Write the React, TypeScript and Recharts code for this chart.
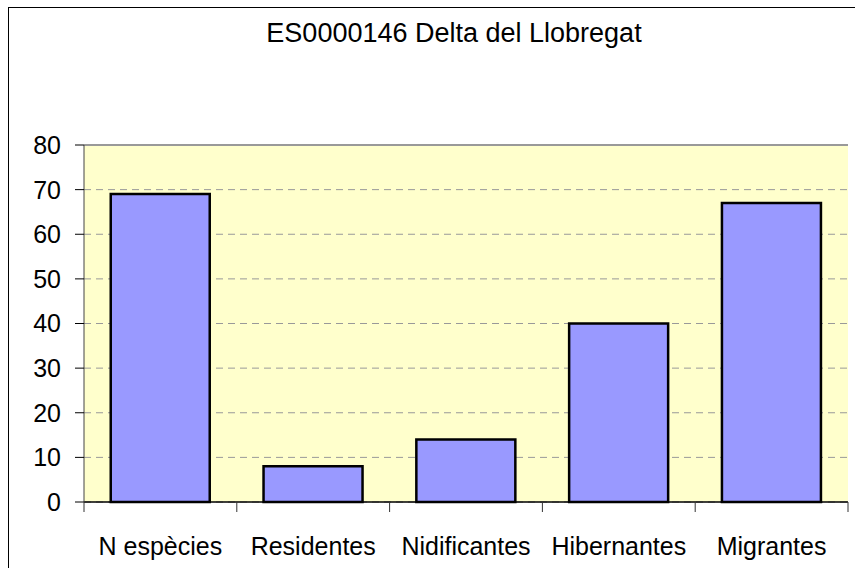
import { BarChart, Bar, XAxis, YAxis, CartesianGrid, ReferenceLine } from 'recharts'

const categories = ['N espècies', 'Residentes', 'Nidificantes', 'Hibernantes', 'Migrantes']
const especies = [69, 8, 14, 40, 67]
const yTicks = [0, 10, 20, 30, 40, 50, 60, 70, 80]

const data = categories.map((name, i) => ({ name, value: especies[i] }))

const CHART_W = 890
const CHART_H = 600
const MARGIN = { top: 137, right: 51, bottom: 0, left: 0 }
const Y_AXIS_W = 75
const STEP = (CHART_W - MARGIN.left - MARGIN.right - Y_AXIS_W) / categories.length
const FONT = '"Liberation Sans", Arial, sans-serif'

function CategoryTick(props: any) {
  const { x, y, payload, index } = props
  const last = index === categories.length - 1
  return (
    <g>
      <line x1={x - STEP / 2} x2={x - STEP / 2} y1={y} y2={y + 10} stroke="#333" />
      {last && <line x1={x + STEP / 2} x2={x + STEP / 2} y1={y} y2={y + 10} stroke="#333" />}
      <text x={x} y={y + 53} textAnchor="middle" fontSize={25} fill="#000" fontFamily={FONT}>
        {payload.value}
      </text>
    </g>
  )
}

export default function App() {
  return (
    <div
      style={{
        position: 'absolute',
        left: 8,
        top: 7,
        width: CHART_W,
        height: CHART_H,
        border: '1px solid #000',
        background: '#fff',
        fontFamily: FONT,
      }}
    >
      <div
        style={{
          position: 'absolute',
          left: -9,
          top: 12,
          width: CHART_W + 18,
          textAlign: 'center',
          fontSize: 27,
          lineHeight: '27px',
          color: '#000',
        }}
      >
        ES0000146 Delta del Llobregat
      </div>
      <BarChart width={CHART_W} height={CHART_H} data={data} margin={MARGIN} barCategoryGap="17.5%">
        <CartesianGrid
          vertical={false}
          fill="#FFFFCC"
          stroke="#999"
          strokeDasharray="7 5"
        />
        <XAxis
          dataKey="name"
          interval={0}
          tickLine={false}
          tickSize={0}
          tickMargin={0}
          height={CHART_H - MARGIN.top - MARGIN.bottom - 357}
          axisLine={{ stroke: '#000', strokeWidth: 1.5 }}
          tick={<CategoryTick />}
        />
        <YAxis
          domain={[0, 80]}
          ticks={yTicks}
          width={Y_AXIS_W}
          tickSize={9}
          tickMargin={14}
          axisLine={{ stroke: '#444' }}
          tickLine={{ stroke: '#000' }}
          tick={{ fill: '#000', fontSize: 25, fontFamily: FONT }}
        />
        <YAxis
          yAxisId="r"
          orientation="right"
          domain={[0, 80]}
          width={0}
          tick={false}
          tickLine={false}
          axisLine={{ stroke: '#999', strokeWidth: 2 }}
        />
        <ReferenceLine y={80} stroke="#999" strokeWidth={2} />
        <Bar dataKey="value" fill="#9999FF" stroke="#000" strokeWidth={2.5} isAnimationActive={false} />
      </BarChart>
    </div>
  )
}
